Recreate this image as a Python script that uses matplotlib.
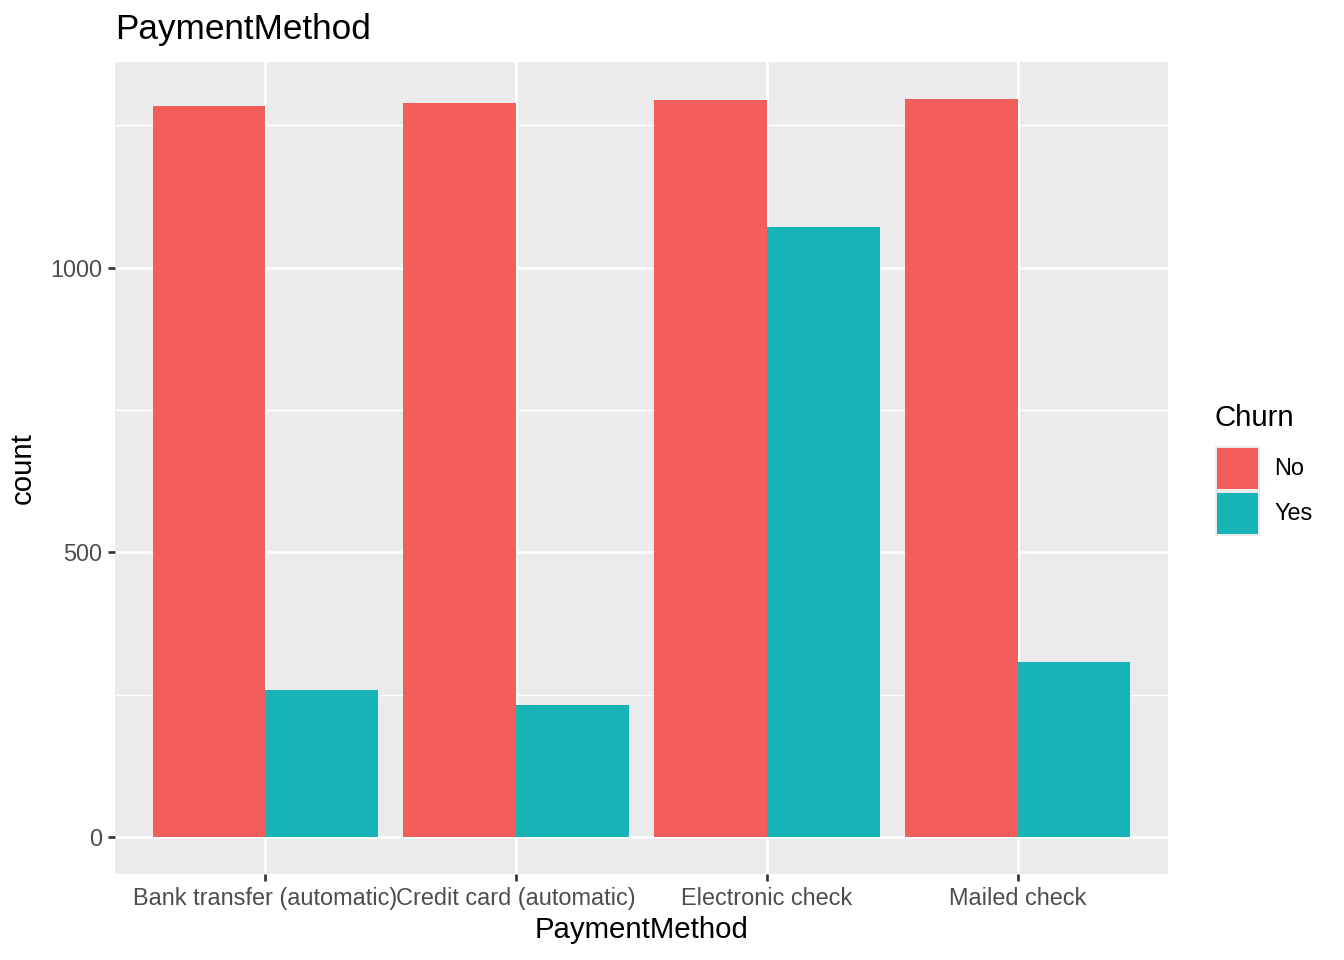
import matplotlib
matplotlib.use("Agg")
import matplotlib.pyplot as plt
from matplotlib.patches import Rectangle
import numpy as np

categories = ["Bank transfer (automatic)", "Credit card (automatic)", "Electronic check", "Mailed check"]
churn_levels = ["No", "Yes"]
no_counts = [1284, 1289, 1294, 1296]
yes_counts = [258, 232, 1071, 308]
bar_colors = ["#F35E5A", "#18B3B7"]

plt.rcParams['font.family'] = ['Liberation Sans', 'DejaVu Sans']

W, H = 1344, 960
fig = plt.figure(figsize=(7, 5), dpi=192)
ax = fig.add_axes([115 / W, 1 - 874 / H, (1168 - 115) / W, (874 - 62) / H])
ax.set_facecolor("#EBEBEB")

x = np.arange(1, len(categories) + 1)
w = 0.45
ax.bar(x - w / 2, no_counts, width=w, color=bar_colors[0], zorder=3, linewidth=0)
ax.bar(x + w / 2, yes_counts, width=w, color=bar_colors[1], zorder=3, linewidth=0)

ymax = max(no_counts + yes_counts)
ax.set_ylim(-0.05 * ymax, 1.05 * ymax)
ax.set_xlim(0.4, len(categories) + 0.6)

ax.set_yticks([0, 500, 1000])
ax.set_yticks([250, 750, 1250], minor=True)
ax.set_xticks(x)
ax.set_xticklabels(categories)

ax.grid(True, which="major", color="white", linewidth=1.0, zorder=1)
ax.grid(True, which="minor", axis="y", color="white", linewidth=0.5, zorder=1)
ax.set_axisbelow(True)
for s in ax.spines.values():
    s.set_visible(False)

ax.tick_params(axis="both", which="major", length=2.75, width=1.0, color="#333333",
               labelsize=8.8, labelcolor="#4D4D4D", pad=2.2)
ax.tick_params(axis="both", which="minor", length=0)

ax.set_xlabel("PaymentMethod", fontsize=11, color="black", labelpad=2)
ax.set_ylabel("count", fontsize=11, color="black", labelpad=5)
fig.text(115 / W, 1 - 29 / H, "PaymentMethod", fontsize=13.2, color="black",
         ha="left", va="center")

# legend
fig.text(1215 / W, 1 - 418 / H, "Churn", fontsize=11, color="black", ha="left", va="center")
key_x0 = 1215
key_tops = [446, 491]
for i, lvl in enumerate(churn_levels):
    top = key_tops[i]
    bg = Rectangle((key_x0 / W, 1 - (top + 45) / H), 45 / W, 45 / H, transform=fig.transFigure,
                   facecolor="#EBEBEB", edgecolor="none")
    fig.add_artist(bg)
    r = Rectangle(((key_x0 + 2) / W, 1 - (top + 43) / H), 41 / W, 41 / H, transform=fig.transFigure,
                  facecolor=bar_colors[i], edgecolor="none")
    fig.add_artist(r)
    fig.text(1274 / W, 1 - (top + 22.5) / H, lvl, fontsize=8.8, color="black", ha="left", va="center")

fig.savefig("out.png", dpi=192, facecolor="white")
